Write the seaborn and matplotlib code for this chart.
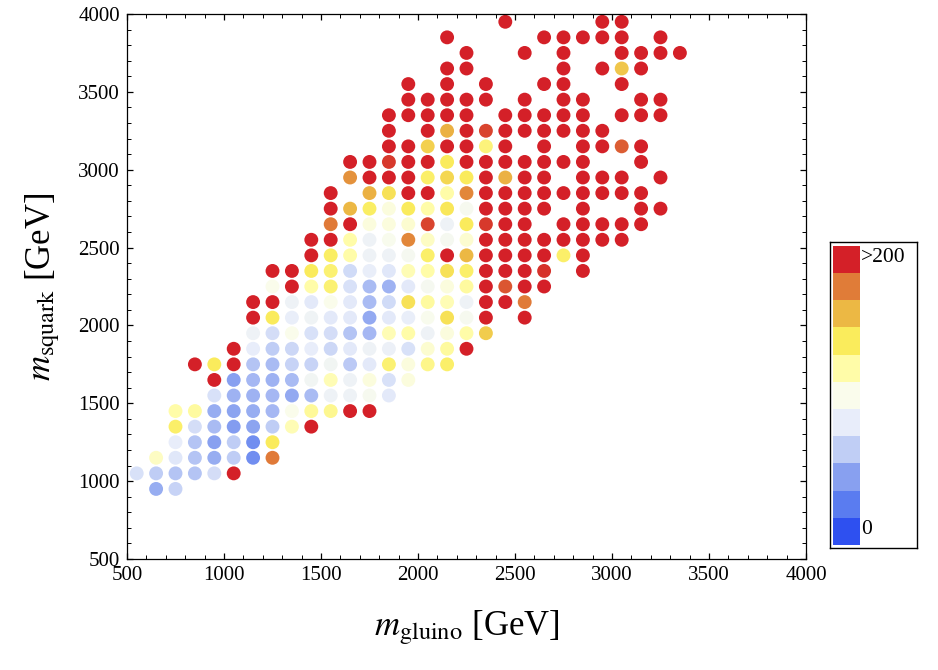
import numpy as np
import pandas as pd
import matplotlib
matplotlib.use("Agg")
import matplotlib.pyplot as plt
from matplotlib.colors import LinearSegmentedColormap, ListedColormap
from matplotlib.ticker import MultipleLocator
import seaborn as sns

# colour scale, bottom (0) to top (>200)
level_colors = ["#2e50f0", "#5a7cf0", "#88a0f0", "#c0cef5", "#e8edfa", "#fafcec",
                "#fffca8", "#faec5c", "#ecb844", "#e07c38", "#d42028"]
cbar_labels = ["0", ">200"]

# grid points: one row per squark mass, (gluino mass, colour level 0..10)
rows = {
    950: [(650, 2.3), (750, 3.2)],
    1050: [(550, 3.6), (650, 3.0), (750, 2.8), (850, 2.8), (950, 3.5), (1050, 10)],
    1150: [(650, 5.6), (750, 3.8), (850, 2.8), (950, 2.3), (1050, 3.0), (1150, 1.5), (1250, 9)],
    1250: [(750, 4.0), (850, 2.8), (950, 2.0), (1050, 3.0), (1150, 1.5), (1250, 7)],
    1350: [(750, 6.8), (850, 3.5), (950, 2.6), (1050, 1.9), (1150, 2.1), (1250, 3.0), (1350, 5.8),
           (1450, 10)],
    1450: [(750, 6.0), (850, 6.1), (950, 2.3), (1050, 2.1), (1150, 2.3), (1250, 2.5), (1350, 5.0),
           (1450, 6.2), (1550, 6.3), (1650, 10), (1750, 10)],
    1550: [(950, 3.6), (1050, 2.4), (1150, 2.4), (1250, 2.5), (1350, 2.2), (1450, 2.6), (1550, 4.3),
           (1650, 4.3), (1750, 4.8), (1850, 3.9)],
    1650: [(950, 10), (1050, 2.0), (1150, 2.5), (1250, 2.4), (1350, 2.6), (1450, 4.5), (1550, 5.8),
           (1650, 4.3), (1750, 5.2), (1850, 3.6), (1950, 5.2)],
    1750: [(850, 10), (950, 7), (1050, 10), (1150, 2.8), (1250, 2.6), (1350, 3.2), (1450, 3.2),
           (1550, 4.5), (1650, 2.9), (1750, 3.9), (1850, 6.7), (1950, 5.2), (2050, 6.4), (2150, 6.8)],
    1850: [(1050, 10), (1150, 4.0), (1250, 3.0), (1350, 3.3), (1450, 4.0), (1550, 3.3), (1650, 3.9),
           (1750, 4.3), (1850, 4.2), (1950, 3.6), (2050, 5.4), (2150, 6.1), (2250, 10)],
    1950: [(1150, 4.3), (1250, 3.5), (1350, 5.0), (1450, 3.6), (1550, 3.5), (1650, 2.8), (1750, 2.5),
           (1850, 5.8), (1950, 6.0), (2050, 4.3), (2150, 5.2), (2250, 6.0), (2350, 7.6)],
    2050: [(1150, 10), (1250, 7), (1350, 4.1), (1450, 4.4), (1550, 3.9), (1650, 3.9), (1750, 2.2),
           (1850, 3.9), (1950, 4.1), (2050, 4.9), (2150, 7.2), (2250, 4.8), (2350, 10), (2550, 10)],
    2150: [(1150, 10), (1250, 10), (1350, 4.3), (1450, 3.9), (1550, 5.0), (1650, 3.9), (1750, 2.6),
           (1850, 3.4), (1950, 7.2), (2050, 6.1), (2150, 5.8), (2250, 4.3), (2350, 10), (2450, 10),
           (2550, 9.0)],
    2250: [(1250, 5.0), (1350, 10), (1450, 6.0), (1550, 6.7), (1650, 3.6), (1750, 2.6), (1850, 2.4),
           (1950, 3.9), (2050, 4.7), (2150, 5.2), (2250, 6.1), (2350, 10), (2450, 9.4), (2550, 10),
           (2650, 10)],
    2350: [(1250, 10), (1350, 10), (1450, 7.0), (1550, 6.7), (1650, 3.4), (1750, 4.1), (1850, 3.8),
           (1950, 5.8), (2050, 6.0), (2150, 7.2), (2250, 6.8), (2350, 10), (2450, 10), (2550, 10),
           (2650, 9.8), (2850, 10)],
    2450: [(1450, 10), (1550, 6.9), (1650, 6.0), (1750, 4.3), (1850, 4.3), (1950, 4.7), (2050, 6.8),
           (2150, 10), (2250, 8.0), (2350, 10), (2450, 10), (2550, 10), (2650, 10), (2750, 6.8),
           (2850, 10)],
    2550: [(1450, 10), (1550, 10), (1650, 6.0), (1750, 4.3), (1850, 4.9), (1950, 8.8), (2050, 5.6),
           (2150, 4.7), (2250, 5.4), (2350, 10), (2450, 10), (2550, 10), (2650, 10), (2750, 10),
           (2850, 10), (2950, 10), (3050, 10)],
    2650: [(1550, 9), (1650, 10), (1750, 5.2), (1850, 5.2), (1950, 5.4), (2050, 9.6), (2150, 4.3),
           (2250, 7.0), (2350, 9.7), (2450, 10), (2550, 10), (2750, 10), (2850, 10), (2950, 10),
           (3050, 10), (3150, 10)],
    2750: [(1550, 10), (1650, 8.0), (1750, 6.9), (1850, 5.2), (1950, 7.0), (2050, 6.0), (2150, 7.1),
           (2250, 4.8), (2350, 10), (2450, 10), (2550, 10), (2650, 10), (2850, 10), (3150, 10),
           (3250, 10)],
    2850: [(1550, 10), (1750, 8.1), (1850, 7.2), (1950, 10), (2050, 10), (2150, 6.0), (2250, 8.8),
           (2350, 10), (2450, 10), (2550, 10), (2650, 10), (2750, 10), (2850, 10), (2950, 10),
           (3050, 10), (3150, 10)],
    2950: [(1650, 8.6), (1750, 10), (1850, 10), (1950, 10), (2050, 6.8), (2150, 7.4), (2250, 7.0),
           (2350, 10), (2450, 8.1), (2550, 10), (2650, 10), (2850, 10), (2950, 10), (3050, 10),
           (3250, 10)],
    3050: [(1650, 10), (1750, 10), (1850, 9.7), (1950, 10), (2050, 10), (2150, 7.0), (2250, 10),
           (2350, 10), (2450, 10), (2550, 10), (2650, 10), (2750, 10), (2850, 10), (3150, 10)],
    3150: [(1850, 10), (1950, 10), (2050, 7.5), (2150, 10), (2250, 10), (2350, 6.6), (2450, 10),
           (2650, 10), (2850, 10), (2950, 10), (3050, 9.3), (3150, 10)],
    3250: [(1850, 10), (2050, 10), (2150, 8.1), (2250, 10), (2350, 9.6), (2450, 10), (2550, 10),
           (2650, 10), (2750, 10), (2850, 10), (2950, 10)],
    3350: [(1850, 10), (1950, 10), (2050, 10), (2150, 10), (2250, 10), (2450, 10), (2550, 10),
           (2650, 10), (2750, 10), (2850, 10), (3050, 10), (3150, 10), (3250, 10)],
    3450: [(1950, 10), (2050, 10), (2150, 10), (2250, 10), (2350, 10), (2550, 10), (2750, 10),
           (2850, 10), (3150, 10), (3250, 10)],
    3550: [(1950, 10), (2150, 10), (2350, 10), (2650, 10), (2750, 10), (3050, 10)],
    3650: [(2150, 10), (2250, 10), (2750, 10), (2950, 10), (3050, 7.7), (3150, 10)],
    3750: [(2250, 10), (2550, 10), (2750, 10), (3050, 10), (3150, 10), (3250, 10), (3350, 10)],
    3850: [(2150, 10), (2650, 10), (2750, 10), (2850, 10), (2950, 10), (3050, 10), (3250, 10)],
    3950: [(2450, 10), (2950, 10), (3050, 10)],
}

m_gluino = [g for sq, pts in rows.items() for g, _ in pts]
m_squark = [sq for sq, pts in rows.items() for _ in pts]
level = [lv for sq, pts in rows.items() for _, lv in pts]

df = pd.DataFrame({"m_gluino": m_gluino, "m_squark": m_squark, "level": level})

sns.set_style("ticks")
plt.rcParams["font.family"] = ["Liberation Serif", "DejaVu Serif"]
plt.rcParams["mathtext.fontset"] = "stix"
for key in ["text.color", "axes.labelcolor", "xtick.color", "ytick.color", "axes.edgecolor"]:
    plt.rcParams[key] = "black"

W, H = 938, 670
fig = plt.figure(figsize=(W / 100, H / 100), dpi=100)
ax = fig.add_axes([127 / W, 1 - 559 / H, 679 / W, 545 / H])

cmap = LinearSegmentedColormap.from_list("levels", level_colors)
sns.scatterplot(data=df, x="m_gluino", y="m_squark", hue="level", palette=cmap,
                hue_norm=(0, 10), s=100, linewidth=0, legend=False, ax=ax)

ax.set_xlim(500, 4000)
ax.set_ylim(500, 4000)
ax.xaxis.set_major_locator(MultipleLocator(500))
ax.yaxis.set_major_locator(MultipleLocator(500))
ax.xaxis.set_minor_locator(MultipleLocator(100))
ax.yaxis.set_minor_locator(MultipleLocator(100))
ax.tick_params(which="both", direction="in", top=True, right=True, labelsize=15, color="black")
ax.tick_params(which="major", length=4.5, width=0.9, pad=5)
ax.tick_params(which="minor", length=2.6, width=0.7)
for sp in ax.spines.values():
    sp.set_linewidth(0.9)
ax.set_xlabel(r"$m_{\rm gluino}$ [GeV]", fontsize=25, labelpad=17)
ax.set_ylabel(r"$m_{\rm squark}$ [GeV]", fontsize=25, labelpad=12)

# discrete colour bar legend
box = fig.add_axes([830 / W, 1 - 548 / H, 87 / W, 306 / H])
box.set_xticks([])
box.set_yticks([])
for sp in box.spines.values():
    sp.set_linewidth(1.0)
cax = fig.add_axes([833 / W, 1 - 545 / H, 27 / W, 299 / H])
cax.imshow(np.arange(len(level_colors))[::-1].reshape(-1, 1), cmap=ListedColormap(level_colors),
           aspect="auto", interpolation="nearest")
cax.axis("off")
fig.text(861 / W, 1 - 258 / H, cbar_labels[1], fontsize=15.5, va="center", ha="left")
fig.text(861 / W, 1 - 530 / H, cbar_labels[0], fontsize=15.5, va="center", ha="left")

fig.savefig("out.png", dpi=100)
